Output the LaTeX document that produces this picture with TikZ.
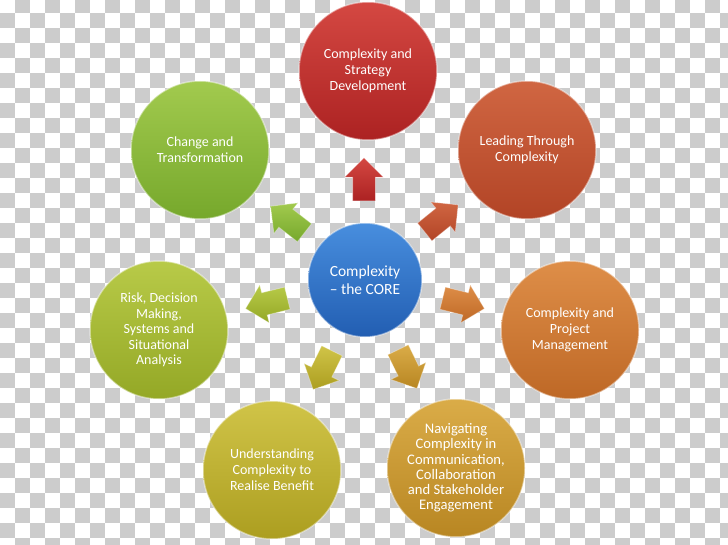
\documentclass[tikz,border=0pt]{standalone}
\usepackage{fontspec}
\setmainfont{Carlito}
\usetikzlibrary{shapes.arrows}
\definecolor{chk}{RGB}{204,204,204}
\definecolor{rT}{RGB}{212,72,66}\definecolor{rB}{RGB}{172,34,34}
\definecolor{oT}{RGB}{208,102,66}\definecolor{oB}{RGB}{178,68,38}
\definecolor{aT}{RGB}{222,142,72}\definecolor{aB}{RGB}{190,104,38}
\definecolor{gT}{RGB}{218,172,72}\definecolor{gB}{RGB}{184,134,34}
\definecolor{yT}{RGB}{208,196,72}\definecolor{yB}{RGB}{172,158,32}
\definecolor{lT}{RGB}{184,202,72}\definecolor{lB}{RGB}{148,168,38}
\definecolor{eT}{RGB}{162,202,78}\definecolor{eB}{RGB}{118,168,44}
\definecolor{bT}{RGB}{72,142,222}\definecolor{bB}{RGB}{34,94,178}
\begin{document}
\begin{tikzpicture}[x=1pt,y=-1pt,
  bubble/.style={circle, minimum size=138pt, inner sep=0pt, align=center,
    text=white, font=\fontsize{14}{16}\selectfont, draw=white, draw opacity=0.45, line width=1.5pt},
  corebubble/.style={bubble, minimum size=114pt, font=\fontsize{15.5}{17.5}\selectfont},
  blk/.style={single arrow, minimum height=43pt, inner xsep=0pt, inner ysep=11pt,
    single arrow head extend=8pt, draw=white, draw opacity=0.35, line width=0.8pt}
]
\useasboundingbox (0,0) rectangle (728,545);
\fill[white] (0,0) rectangle (728,545);
\foreach \j [evaluate=\j as \s using {int(mod(\j+1,2))}] in {0,...,36}
  \foreach \k in {0,...,24}
    \fill[chk] (\s*15+\k*30,-2.3+\j*15) rectangle ++(15,15);

% arrows
\node[blk, top color=rT, bottom color=rB, rotate=90]  (a1) at (364,185) {};
\node[blk, top color=oT, bottom color=oB, rotate=39]  (a2) at (437,222) {};
\node[blk, top color=aT, bottom color=aB, rotate=-14] (a3) at (458,302) {};
\node[blk, top color=gT, bottom color=gB, rotate=-64] (a4) at (405,364) {};
\node[blk, top color=yT, bottom color=yB, rotate=-116] (a5) at (325,365) {};
\node[blk, top color=lT, bottom color=lB, rotate=194] (a6) at (272,302) {};
\node[blk, top color=eT, bottom color=eB, rotate=142] (a7) at (292,223) {};

% circles
\node[bubble, top color=rT, bottom color=rB] (c1) at (368,71) {Complexity and\\Strategy\\Development};
\node[bubble, top color=oT, bottom color=oB] (c2) at (527,150) {Leading Through\\Complexity};
\node[bubble, top color=aT, bottom color=aB] (c3) at (570,330) {Complexity and\\Project\\Management};
\node[bubble, top color=gT, bottom color=gB, font=\fontsize{14.6}{15.2}\selectfont] (c4) at (456,468) {Navigating\\Complexity in\\Communication,\\Collaboration\\and Stakeholder\\Engagement};
\node[bubble, top color=yT, bottom color=yB] (c5) at (272,470) {Understanding\\Complexity to\\Realise Benefit};
\node[bubble, top color=lT, bottom color=lB, font=\fontsize{14}{15.6}\selectfont] (c6) at (159,330) {Risk, Decision\\Making,\\Systems and\\Situational\\Analysis};
\node[bubble, top color=eT, bottom color=eB] (c7) at (200,150) {Change and\\Transformation};
\node[corebubble, top color=bT, bottom color=bB] (core) at (365,280) {Complexity\\– the CORE};
\end{tikzpicture}
\end{document}
